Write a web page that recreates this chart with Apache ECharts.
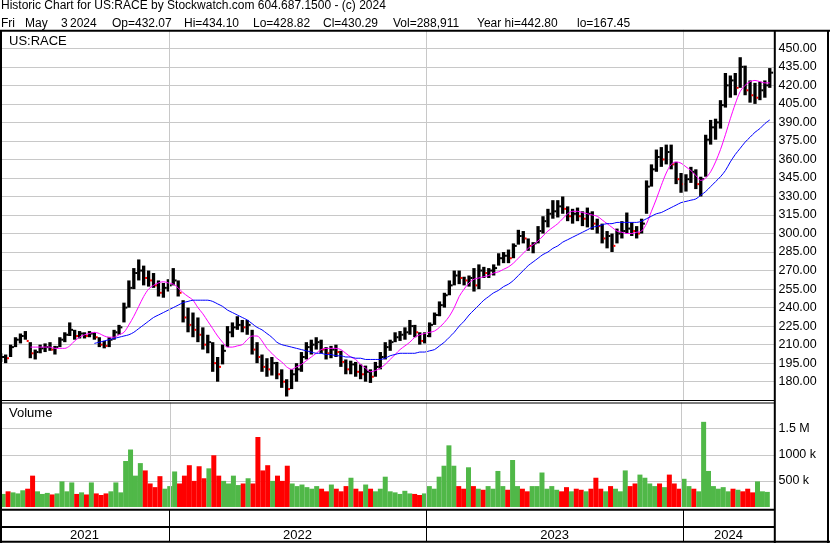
<!DOCTYPE html>
<html><head><meta charset="utf-8">
<script src="https://cdn.jsdelivr.net/npm/echarts@6/dist/echarts.min.js"></script>
<style>html,body{margin:0;padding:0;background:#fff}#c{width:830px;height:543px}</style>
</head><body><div id="c"></div>
<script>
// ---- DATA (weekly slots, first bar Fri 2021-05-07) ----
const lo = [196,195,200,208,211,214,199,198,203,204,
205,202,208,212,217,214,215,215,216,214,
208,207,208,214,218,228,240,255,262,258,
257,256,249,248,253,258,249,228,220,216,
212,206,203,188,180,194,208,216,222,220,
218,202,195,188,184,185,182,175,168,174,
180,188,198,202,206,203,198,199,200,192,
186,186,184,182,180,179,184,190,198,205,
212,213,214,218,216,210,211,216,226,233,
240,250,258,259,258,257,253,255,264,264,
266,274,276,276,280,291,292,286,284,292,
300,305,312,313,316,310,308,310,306,305,
303,300,292,288,285,292,296,300,298,296,
300,316,338,350,354,356,352,340,333,334,
341,336,330,346,372,376,385,402,410,412,
418,412,406,405,408,410,418];
const hi = [203,202,210,216,219,221,212,206,210,211,
212,209,216,220,228,222,221,220,221,220,
216,213,216,222,226,244,262,272,279,274,
270,268,262,260,263,272,262,246,240,236,
232,224,218,212,200,210,225,228,233,230,
230,222,212,202,199,200,196,190,182,190,
195,204,212,214,216,214,208,209,210,205,
198,197,196,194,193,190,196,204,212,214,
220,221,224,230,226,220,220,228,236,245,
252,262,270,270,265,266,272,275,273,272,
275,284,285,287,292,303,302,296,293,306,
314,320,327,327,330,322,320,321,318,321,
318,312,308,302,300,304,310,317,309,306,
312,343,356,368,370,372,372,358,349,348,
354,352,346,380,392,393,408,430,428,430,
442.8,436,424,422,423,424,434];
const close = [200,199,208,214,217,213,203,204,207,208,
206,208,214,218,222,217,219,217,219,216,
210,209,214,220,224,240,256,268,270,264,
262,258,252,256,258,262,252,232,226,222,
218,210,212,195,192,205,220,224,226,224,
226,206,200,192,190,195,186,180,174,186,
190,200,208,210,212,206,203,206,204,196,
190,194,188,186,188,184,192,200,208,212,
216,218,220,225,220,213,217,226,234,242,
250,258,266,264,262,264,258,270,268,270,
272,280,282,280,290,298,296,290,292,302,
310,316,318,322,320,314,316,314,312,316,
308,306,296,298,290,300,302,304,302,300,
308,338,352,362,360,366,356,344,340,344,
350,340,344,376,386,390,404,420,424,418,
435,416,412,410,416,420,430.29];
const volK = [250,300,280,260,320,350,600,300,250,270,
240,260,490,300,470,250,280,240,470,260,
230,260,300,470,280,880,1100,600,840,700,
450,380,590,350,400,680,450,600,800,500,
780,550,740,990,600,500,450,600,420,450,
550,450,1340,700,800,500,600,500,790,450,
400,430,380,350,400,350,300,430,350,300,
400,560,350,300,430,350,300,350,580,300,
280,250,310,260,250,230,260,400,350,580,
790,1180,790,400,350,760,400,350,330,400,
350,690,400,330,900,400,350,300,400,400,
660,350,400,330,300,380,300,350,330,300,
350,560,350,300,400,350,300,700,400,450,
620,560,450,400,450,380,620,450,350,540,
400,350,300,1630,690,400,350,380,300,350,
330,300,350,280,490,300,289];
const maShort = [null,null,null,null,null,null,208,208,208,208,
208,207,207,207,209,213,216,218,219,220,
219,217,216,216,218,220,226,233,241,249,
255,258,260,261,260,259,256,252,249,246,
240,235,229,223,217,212,208,208,209,210,
214,217,217,213,207,203,199,196,192,190,
192,194,197,200,203,206,207,207,207,206,
203,200,198,194,191,188,189,191,194,198,
202,206,209,212,216,218,219,220,221,224,
228,233,240,249,255,260,263,264,265,266,
268,269,271,273,276,280,284,288,291,294,
298,302,305,308,312,316,318,318,317,316,
315,314,311,308,305,302,301,300,300,301,
302,308,318,328,339,349,356,358,357,354,
351,347,343,345,350,358,368,380,393,405,
415,420,423,424,423,422,422];
const maLong = [null,null,null,null,null,null,null,null,null,null,
null,null,null,null,null,null,null,null,null,211,
212,213,214,215,216,217,218,220,223,226,
229,232,234,236,238,240,242,244,245,246,
246,246,246,245,243,241,238,236,234,232,
230,227,224,222,219,216,212,210,209,208,
207,206,205,204,203,203,202,202,201,201,
200,200,199,199,198,198,198,198,199,201,
202,203,203,203,203,204,204,205,206,209,
212,216,220,225,229,234,238,242,246,249,
252,254,257,259,262,266,270,274,277,280,
283,285,288,290,293,295,297,299,301,303,
305,306,307,308,308,309,309,309,309,309,
310,312,314,316,317,319,321,323,325,326,
327,328,331,334,338,342,346,351,358,364,
369,374,378,382,385,389,392];
const priceTicks = {min:165, max:465, step:15};
const volTicks = {min:0, max:2000000, step:500000};
const years = ['2021','2022','2023','2024'];
const titleLine1 = 'Historic Chart for US:RACE by Stockwatch.com 604.687.1500 - (c) 2024';
const titleLine2 = ['Fri','May','3','2024','Op=432.07','Hi=434.10','Lo=428.82','Cl=430.29','Vol=288,911','Year hi=442.80','lo=167.45'];
const symbolName = 'US:RACE';

// ---- BUILD ----
const D = (y,m,d)=>new Date(y,m,d).getTime();
const weekDates = lo.map((_,i)=>D(2021,4,7+7*i));
const xMin = D(2021,4,6), xMax = D(2024,4,9);
const ohlc = weekDates.map((d,i)=>[d, lo[i], hi[i], close[i], i>0?close[i-1]:close[i]]);
const volData = weekDates.map((d,i)=>{
  const up = i===0 ? true : close[i]>=close[i-1];
  return {value:[d, volK[i]*1000], itemStyle:{color: up?'#50b848':'#ff0000'}};
});
const yearSpans = years.map(y=>[D(+y,0,1), D(+y+1,0,1)]);
const yearLines = years.slice(1).map(y=>({xAxis: D(+y,0,1)}));
const FONT = '"Liberation Sans", Arial, sans-serif';
const grid = [
  {left:0, width:774, top:29.8, height:370.4},
  {left:0, width:774, top:402.5, height:104.5},
  {left:0, width:774, top:510, height:32}
];
const xAx = [0,1,2].map(i=>({type:'time', gridIndex:i, min:xMin, max:xMax,
  axisLine:{show:false}, axisTick:{show:false}, axisLabel:{show:false}, splitLine:{show:false}}));
const yAx = [
  {type:'value', gridIndex:0, position:'right', min:priceTicks.min, max:priceTicks.max, interval:priceTicks.step,
   axisLine:{show:false}, axisTick:{show:false},
   axisLabel:{margin:4.5, color:'#000', fontSize:12.5, fontFamily:FONT, showMinLabel:false, showMaxLabel:false,
     formatter:v=>v.toFixed(2)},
   splitLine:{show:true, showMinLine:false, showMaxLine:false, lineStyle:{color:'#c8c8c8', width:1}}},
  {type:'value', gridIndex:1, position:'right', min:volTicks.min, max:volTicks.max, interval:volTicks.step,
   axisLine:{show:false}, axisTick:{show:false},
   axisLabel:{margin:4.5, color:'#000', fontSize:12.5, fontFamily:FONT, showMinLabel:false, showMaxLabel:false,
     formatter:v=> v>1000000 ? (v/1000000)+' M' : (v/1000)+' k'},
   splitLine:{show:true, showMinLine:false, showMaxLine:false, lineStyle:{color:'#c8c8c8', width:1}}},
  {type:'value', gridIndex:2, min:0, max:1, show:false}
];
const ml = color=>({silent:true, symbol:'none', label:{show:false}, animation:false,
  lineStyle:{color, type:'solid', width:1}, data:yearLines});

const series = [
  {type:'custom', xAxisIndex:0, yAxisIndex:0, data:ohlc, z:3, markLine:ml('#c8c8c8'),
   renderItem:(params, api)=>{
     const x = api.value(0);
     const pL = api.coord([x, api.value(1)]);
     const pH = api.coord([x, api.value(2)]);
     const pC = api.coord([x, api.value(3)]);
     const down = api.value(3) < api.value(4);
     const w = 3.3;
     return {type:'group', children:[
       {type:'rect', shape:{x:pL[0]-w/2, y:pH[1], width:w, height:Math.max(1,pL[1]-pH[1])}, style:{fill:'#000'}},
       {type:'rect', shape:{x:pL[0]+w/2-0.3, y:pC[1]-1, width:2, height:2}, style:{fill: down?'#ff0000':'#000'}}
     ]};
   }},
  {type:'line', xAxisIndex:0, yAxisIndex:0, data:weekDates.map((d,i)=>[d, maShort[i]]), showSymbol:false, smooth:0.3,
   connectNulls:false, lineStyle:{color:'#ff00ff', width:1}, itemStyle:{color:'#ff00ff'}, z:4},
  {type:'line', xAxisIndex:0, yAxisIndex:0, data:weekDates.map((d,i)=>[d, maLong[i]]), showSymbol:false, smooth:0.3,
   connectNulls:false, lineStyle:{color:'#0000ff', width:1}, itemStyle:{color:'#0000ff'}, z:4},
  {type:'bar', xAxisIndex:1, yAxisIndex:1, data:volData, barWidth:5, markLine:ml('#c8c8c8')},
  {type:'custom', xAxisIndex:2, yAxisIndex:2, data:yearSpans, markLine:ml('#000'),
   renderItem:(params, api)=>{
     const cs = params.coordSys;
     const a = Math.max(api.coord([api.value(0),0])[0], cs.x);
     const b = Math.min(api.coord([api.value(1),0])[0], cs.x+cs.width);
     return {type:'text', style:{text:years[params.dataIndex], x:(a+b)/2, y:cs.y+cs.height-7,
       align:'center', verticalAlign:'middle', font:'13px '+FONT, fill:'#000'}};
   }}
];

const L = (x1,y1,x2,y2,w)=>({type:'line', shape:{x1,y1,x2,y2}, style:{stroke:'#000', lineWidth:w}, z:100, silent:true});
const T = (text,x,y,size)=>({type:'text', style:{text, x, y, font:size+'px '+FONT, fill:'#000', verticalAlign:'middle'}, z:100, silent:true});
const line2X = [1,25,61,70,112,184,253,323,393,477,577];
const graphic = [
  L(0,30.8,830,30.8,2), L(1,30,1,543,2), L(828,30,828,543,2), L(774.8,30,774.8,543,2),
  L(0,400.5,774,400.5,1), L(0,403,774,403,1), L(0,509.8,774,509.8,2), L(0,527,774,527,2), L(0,541.8,830,541.8,2),
  T(titleLine1,1,5.2,12),
  ...titleLine2.map((t,i)=>T(t,line2X[i],23.6,12)),
  T(symbolName,9,41.5,13),
  T('Volume',9,413.5,13)
];

const chart = echarts.init(document.getElementById('c'), null, {renderer:'canvas'});
chart.setOption({animation:false, backgroundColor:'#fff', grid, xAxis:xAx, yAxis:yAx, series, graphic});
</script></body></html>
